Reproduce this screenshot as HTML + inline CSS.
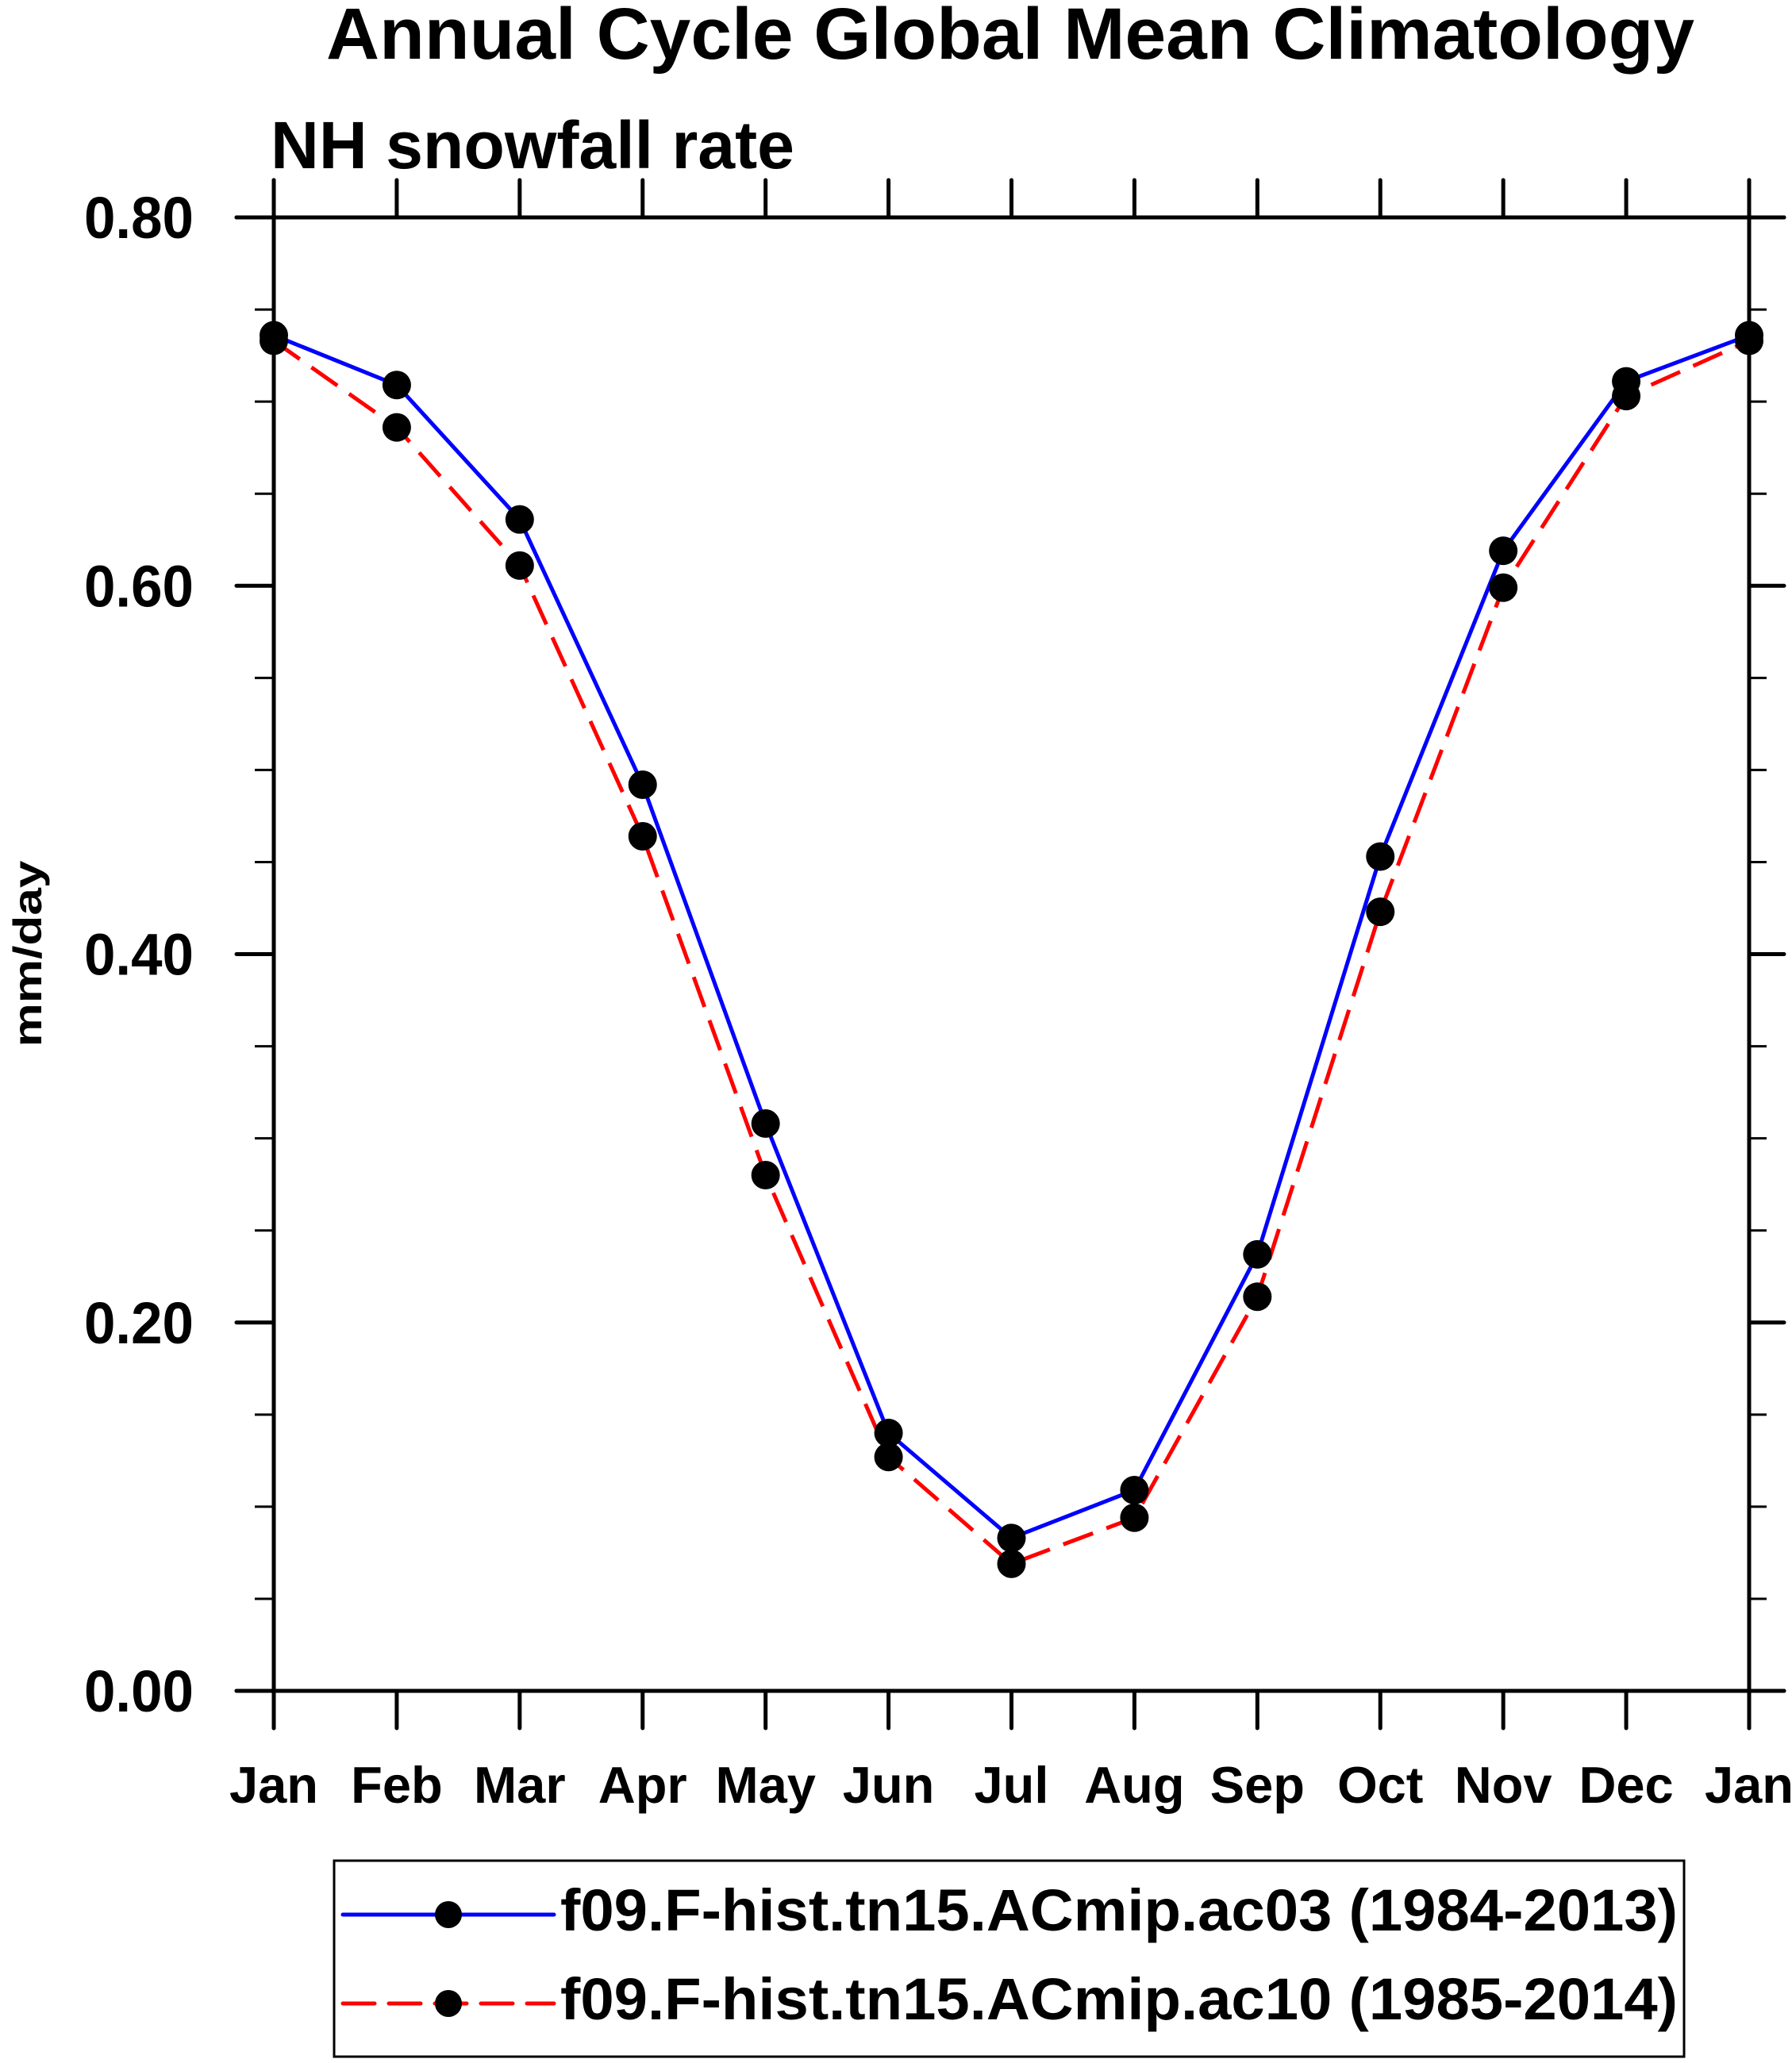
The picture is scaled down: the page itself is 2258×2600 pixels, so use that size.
<!DOCTYPE html>
<html><head><meta charset="utf-8"><style>
html,body{margin:0;padding:0;background:#fff;}
svg{display:block;font-family:"Liberation Sans",Arial,sans-serif;font-weight:bold;}
</style></head>
<body>
<svg id="chart" width="2258" height="2600" viewBox="0 0 2258 2600" xmlns="http://www.w3.org/2000/svg">
<text x="1273" y="74" font-size="92" text-anchor="middle" textLength="1724" lengthAdjust="spacingAndGlyphs">Annual Cycle Global Mean Climatology</text>
<text x="341" y="212" font-size="84" textLength="660" lengthAdjust="spacingAndGlyphs">NH snowfall rate</text>
<text transform="translate(52,1202) rotate(-90)" font-size="50" text-anchor="middle" textLength="235" lengthAdjust="spacingAndGlyphs">mm/day</text>
<g id="axes"></g>
<g id="series"></g>
<g>
<rect x="421" y="2345" width="1701" height="247" fill="none" stroke="#000" stroke-width="3"/>
<g>
<line x1="432" y1="2413" x2="698" y2="2413" stroke="#0000ff" stroke-width="5" stroke-linecap="round"/>
<circle cx="565" cy="2413" r="17" fill="#000"/>
<text x="706" y="2433" font-size="74" textLength="1408" lengthAdjust="spacingAndGlyphs">f09.F-hist.tn15.ACmip.ac03 (1984-2013)</text>
</g>
<g>
<line x1="432" y1="2525" x2="698" y2="2525" stroke="#ff0000" stroke-width="5" stroke-dasharray="40 18" stroke-linecap="round"/>
<circle cx="565" cy="2525" r="17" fill="#000"/>
<text x="706" y="2545" font-size="74" textLength="1408" lengthAdjust="spacingAndGlyphs">f09.F-hist.tn15.ACmip.ac10 (1985-2014)</text>
</g>
</g>
</svg>
<script>
const months = ["Jan","Feb","Mar","Apr","May","Jun","Jul","Aug","Sep","Oct","Nov","Dec","Jan"];
const ac03 = [0.736,0.709,0.636,0.492,0.308,0.140,0.083,0.109,0.237,0.453,0.619,0.711,0.736];
const ac10 = [0.733,0.686,0.611,0.464,0.280,0.127,0.069,0.094,0.214,0.423,0.599,0.703,0.733];
const yTicks = [0,0.2,0.4,0.6,0.8];
const yTickLabels = ["0.00","0.20","0.40","0.60","0.80"];
const yMinorTicks = [0.05,0.1,0.15,0.25,0.3,0.35,0.45,0.5,0.55,0.65,0.7,0.75];

const NS="http://www.w3.org/2000/svg";
const X0=345, X1=2204, YB=2131, YT=274, YMAX=0.8;
function xs(i){return X0+(X1-X0)*i/(months.length-1);}
function ys(v){return YB-(YB-YT)*v/YMAX;}
function mk(tag,attrs,parent){const e=document.createElementNS(NS,tag);for(const k in attrs)e.setAttribute(k,attrs[k]);parent.appendChild(e);return e;}

const axes=document.getElementById('axes');
const ln={stroke:"#000","stroke-width":5,"stroke-linecap":"round"};
let e;
e=mk('line',Object.assign({x1:298,y1:YB,x2:2248,y2:YB},ln),axes);


e=mk('line',Object.assign({x1:298,y1:YT,x2:2248,y2:YT},ln),axes);


e=mk('line',Object.assign({x1:X0,y1:227,x2:X0,y2:2178},ln),axes);


e=mk('line',Object.assign({x1:X1,y1:227,x2:X1,y2:2178},ln),axes);


months.forEach((m,i)=>{
  const x=xs(i);
  e=mk('line',Object.assign({x1:x,y1:YB,x2:x,y2:2178},ln),axes);
  
  
  e=mk('line',Object.assign({x1:x,y1:YT,x2:x,y2:227},ln),axes);
  
  
  const t=mk('text',{x:x,y:2272,"font-size":65,"text-anchor":"middle"},axes);
  t.textContent=m;
  
  
});
yTicks.forEach((v,i)=>{
  const y=ys(v);
  e=mk('line',Object.assign({x1:298,y1:y,x2:X0,y2:y},ln),axes);
  
  
  e=mk('line',Object.assign({x1:X1,y1:y,x2:2248,y2:y},ln),axes);
  
  
  const t=mk('text',{x:244,y:y+26,"font-size":74,"text-anchor":"end",textLength:138,lengthAdjust:"spacingAndGlyphs"},axes);
  t.textContent=yTickLabels[i];
  
  
});
yMinorTicks.forEach(v=>{
  const y=ys(v);
  e=mk('line',{x1:321,y1:y,x2:X0,y2:y,stroke:"#000","stroke-width":3},axes);
  
  
  e=mk('line',{x1:X1,y1:y,x2:2226,y2:y,stroke:"#000","stroke-width":3},axes);
  
  
});

const ser=document.getElementById('series');
function drawSeries(vals,color,dash,name){
  const pts=vals.map((v,i)=>xs(i)+","+ys(v)).join(" ");
  const a={points:pts,fill:"none",stroke:color,"stroke-width":5,"stroke-linejoin":"round"};
  if(dash)a["stroke-dasharray"]=dash;
  const p=mk('polyline',a,ser);
  
  
}
function drawMarkers(vals,name){
  vals.forEach((v,i)=>{
    const c=mk('circle',{cx:xs(i),cy:ys(v),r:18,fill:"#000"},ser);
    
    
  });
}
drawSeries(ac10,"#ff0000","40 18","ac10");
drawSeries(ac03,"#0000ff",null,"ac03");
drawMarkers(ac10,"ac10");
drawMarkers(ac03,"ac03");
</script>
</body></html>
